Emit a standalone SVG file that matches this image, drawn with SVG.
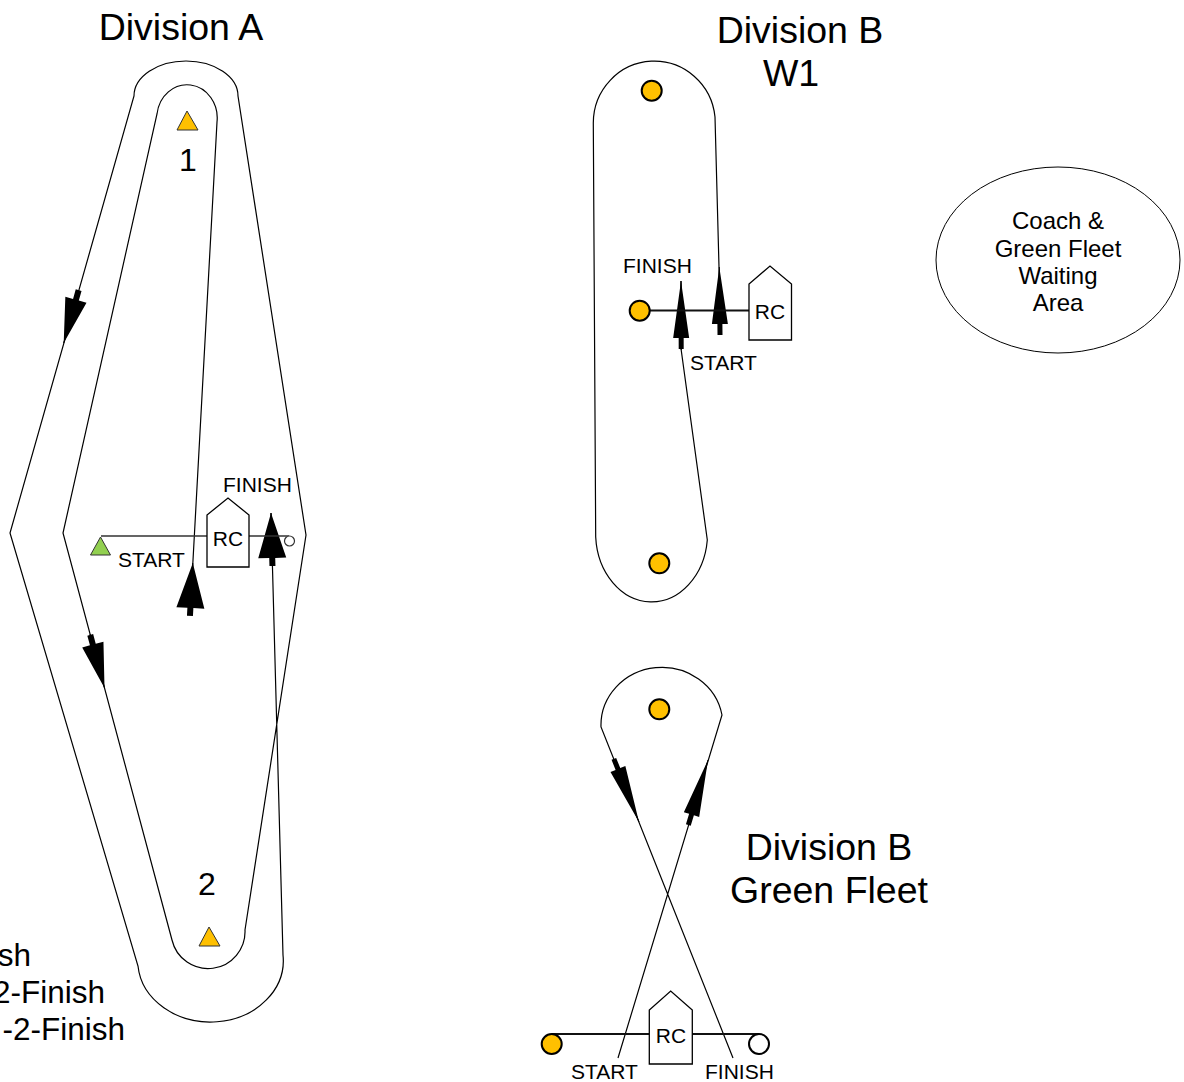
<svg xmlns="http://www.w3.org/2000/svg" width="1184" height="1082" viewBox="0 0 1184 1082">
<defs>
<style>
text { font-family: "Liberation Sans", Arial, sans-serif; fill:#000; }
.title { font-size:37.5px; text-anchor:middle; }
.big { font-size:31.5px; text-anchor:end; }
.lbl { font-size:21px; }
.rc { font-size:21px; text-anchor:middle; }
.num { font-size:32px; text-anchor:middle; }
.coach { font-size:24px; text-anchor:middle; }
.course { fill:none; stroke:#000; stroke-width:1.2; }
.sline { fill:none; stroke:#333; stroke-width:1.6; }
.slineB { fill:none; stroke:#111; stroke-width:2; }
.boat { fill:#fff; stroke:#000; stroke-width:1.3; }
.buoy { fill:#FFC000; stroke:#000; stroke-width:2; }
.wbuoy { fill:#fff; stroke:#000; stroke-width:2; }
.tri { fill:#FFC000; stroke:#333; stroke-width:1; }
.gtri { fill:#92D050; stroke:#333; stroke-width:1; }
.arr { fill:none; stroke:#000; stroke-width:1; }
</style>
<marker id="arrA" viewBox="-60 -16 62 32" markerWidth="62" markerHeight="32" refX="0" refY="0" orient="auto" markerUnits="userSpaceOnUse">
<path d="M0 0 L-45 -14 L-45 -3 L-53 -3 L-53 3 L-45 3 L-45 14 Z" fill="#000"/>
</marker>
<marker id="arrL" viewBox="-60 -16 62 32" markerWidth="62" markerHeight="32" refX="0" refY="0" orient="auto" markerUnits="userSpaceOnUse">
<path d="M0 0 L-45 -11 L-45 -3 L-55 -3 L-55 3 L-45 3 L-45 11 Z" fill="#000"/>
</marker>
<marker id="arrB" viewBox="-70 -10 72 20" markerWidth="72" markerHeight="20" refX="0" refY="0" orient="auto" markerUnits="userSpaceOnUse">
<path d="M0 0 L-57 -8 L-57 -2.5 L-68 -2.5 L-68 2.5 L-57 2.5 L-57 8 Z" fill="#000"/>
</marker>
</defs>
<rect x="0" y="0" width="1184" height="1082" fill="#fff"/>

<g id="connectors">
  <!-- Division A course -->
  <path class="course" d="M 190 615 L 217 122 A 30 33 0 0 0 157 114 L 63 533 L 172 940 A 37 37 0 0 0 245 930 L 306 535 L 238 96 A 52 35 0 0 0 134 96 L 10 533 L 138 966 A 71 60 0 0 0 283 955 L 271 513"/>
  <path class="arr" d="M 190 615 L 192.8 563" marker-end="url(#arrA)"/>
  <path class="arr" d="M 272.5 568 L 271 513" marker-end="url(#arrA)"/>
  <path class="arr" d="M 78.1 292 L 63.7 343" marker-end="url(#arrL)"/>
  <path class="arr" d="M 90 634 L 104.5 688" marker-end="url(#arrL)"/>
  <!-- Division A start line -->
  <path class="sline" d="M 101 536 L 207 536 M 249 536 L 289 536"/>

  <!-- Division B W1 course -->
  <path class="course" d="M 720 334 L 719 267 L 715 117 A 61 62 0 0 0 593.3 123 L 595.7 537 A 56 69 0 0 0 707.3 540 L 681.2 350 L 681 281"/>
  <path class="arr" d="M 720 334 L 719.3 267" marker-end="url(#arrB)"/>
  <path class="arr" d="M 681.2 350 L 681 281" marker-end="url(#arrB)"/>
  <path class="slineB" d="M 650 310.5 L 749 310.5"/>

  <!-- Division B Green Fleet course -->
  <path class="course" d="M 618 1058 L 722 715 A 61 58 0 0 0 601 727 L 733 1058"/>
  <path class="arr" d="M 614.6 760.7 L 639 822" marker-end="url(#arrB)"/>
  <path class="arr" d="M 688.9 823.2 L 708 760" marker-end="url(#arrB)"/>
  <path class="slineB" d="M 552 1034 L 649 1034 M 692 1034 L 759 1034"/>
</g>

<g id="title-a"><text class="title" x="181" y="40">Division A</text></g>
<g id="title-b-w1"><text class="title" x="800" y="43">Division B</text><text class="title" x="791" y="86">W1</text></g>
<g id="title-b-gf"><text class="title" x="829" y="860">Division B</text><text class="title" x="829" y="903">Green Fleet</text></g>

<g id="mark-a1">
  <polygon class="tri" points="187,111 177,130 198,130"/>
  <text class="num" x="188" y="171">1</text>
</g>
<g id="mark-a2">
  <polygon class="tri" points="209,927 199,946 220,946"/>
  <text class="num" x="207" y="895">2</text>
</g>
<g id="pin-a-start"><polygon class="gtri" points="100.5,537 90.5,555 110.5,555"/></g>
<g id="pin-a-finish"><circle cx="289.5" cy="541" r="5" fill="#fff" stroke="#333" stroke-width="1.2"/></g>
<g id="rc-a">
  <path class="boat" d="M 207 567 L 207 515 L 228 498 L 249 515 L 249 567 Z"/>
  <text class="rc" x="228" y="546">RC</text>
</g>
<g id="labels-a">
  <text class="lbl" x="118" y="567">START</text>
  <text class="lbl" x="223" y="492">FINISH</text>
</g>
<g id="legend">
  <text class="big" x="31" y="966">sh</text>
  <text class="big" x="105" y="1003">2-Finish</text>
  <text class="big" x="125" y="1040">-2-Finish</text>
</g>

<g id="mark-w1-top"><circle class="buoy" cx="651.7" cy="90.7" r="10"/></g>
<g id="mark-w1-bottom"><circle class="buoy" cx="659.3" cy="563.3" r="10"/></g>
<g id="pin-w1"><circle class="buoy" cx="639.7" cy="310.7" r="10"/></g>
<g id="rc-w1">
  <path class="boat" d="M 749 340 L 749 284 L 770 266 L 791.5 284 L 791.5 340 Z"/>
  <text class="rc" x="770" y="319">RC</text>
</g>
<g id="labels-w1">
  <text class="lbl" x="623" y="273">FINISH</text>
  <text class="lbl" x="690" y="370">START</text>
</g>

<g id="mark-gf-top"><circle class="buoy" cx="659.3" cy="709.3" r="10"/></g>
<g id="pin-gf-left"><circle class="buoy" cx="551.7" cy="1044" r="10"/></g>
<g id="pin-gf-right"><circle class="wbuoy" cx="759" cy="1044" r="10"/></g>
<g id="rc-gf">
  <path class="boat" d="M 649.3 1064 L 649.3 1010 L 670.7 991 L 692.3 1010 L 692.3 1064 Z"/>
  <text class="rc" x="671" y="1043">RC</text>
</g>
<g id="labels-gf">
  <text class="lbl" x="571" y="1079">START</text>
  <text class="lbl" x="705" y="1079">FINISH</text>
</g>

<g id="waiting-area">
  <ellipse cx="1058" cy="260" rx="122" ry="93" fill="#fff" stroke="#000" stroke-width="1"/>
  <text class="coach" x="1058" y="229">Coach &amp;</text>
  <text class="coach" x="1058" y="257">Green Fleet</text>
  <text class="coach" x="1058" y="284">Waiting</text>
  <text class="coach" x="1058" y="311">Area</text>
</g>
</svg>
